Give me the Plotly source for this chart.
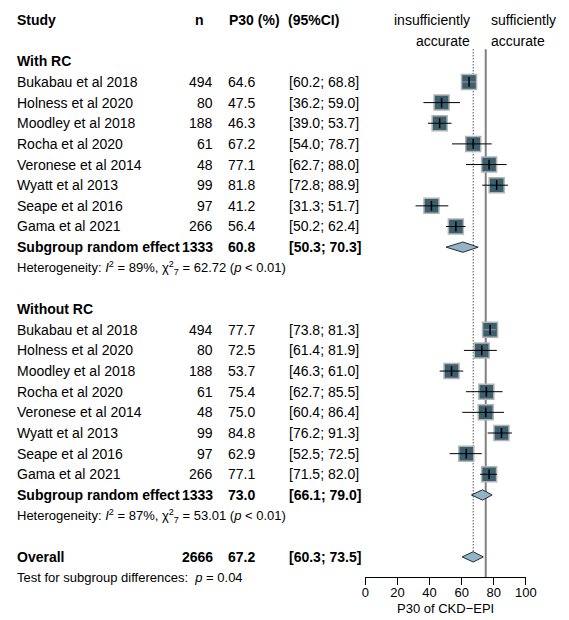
import plotly.graph_objects as go

# ---------------- data ----------------
studies = ["Bukabau et al 2018", "Holness et al 2020", "Moodley et al 2018", "Rocha et al 2020",
           "Veronese et al 2014", "Wyatt et al 2013", "Seape et al 2016", "Gama et al 2021"]
n_vals = [494, 80, 188, 61, 48, 99, 97, 266]

rc_est = [64.6, 47.5, 46.3, 67.2, 77.1, 81.8, 41.2, 56.4]
rc_lo = [60.2, 36.2, 39.0, 54.0, 62.7, 72.8, 31.3, 50.2]
rc_hi = [68.8, 59.0, 53.7, 78.7, 88.0, 88.9, 51.7, 62.4]

norc_est = [77.7, 72.5, 53.7, 75.4, 75.0, 84.8, 62.9, 77.1]
norc_lo = [73.8, 61.4, 46.3, 62.7, 60.4, 76.2, 52.5, 71.5]
norc_hi = [81.3, 81.9, 61.0, 85.5, 86.4, 91.3, 72.5, 82.0]

group_names = ["With RC", "Without RC"]
sub_n = [1333, 1333]
sub_est = [60.8, 73.0]
sub_lo = [50.3, 66.1]
sub_hi = [70.3, 79.0]
het_i2 = ["89%", "87%"]
het_df = [7, 7]
het_q = ["62.72", "53.01"]
het_p = ["&lt; 0.01", "&lt; 0.01"]

overall_n = 2666
overall_est = 67.2
overall_lo = 60.3
overall_hi = 73.5
subgroup_test_p = "0.04"

ref_value = 75
x_ticks = [0, 20, 40, 60, 80, 100]
x_label = "P30 of CKD\u2212EPI"

# ---------------- layout helpers ----------------
OFF = 8                           # page body margin of the html page
W, H = 569 - OFF, 620 - OFF
FONT = "Liberation Sans, Arial, Helvetica, sans-serif"
FS = 14
ROW0, ROWH = 20.0 - OFF, 20.65    # figure-pixel centre of row 0, row height
AXIS_PIX = 577 - OFF              # figure pixel of the x-axis line
X0_PIX, X1_PIX = 371 - OFF, 536 - OFF

COL_STUDY = 12 - OFF
COL_N = 216 - OFF
COL_P = 259 - OFF
COL_CI = 292 - OFF

annotations = []


def row_paper(row):
    return 1 - (ROW0 + ROWH * row) / AXIS_PIX


def txt(xpix, row, s, anchor="left", bold=False, size=FS):
    if bold:
        s = "<b>" + s + "</b>"
    annotations.append(dict(x=xpix / W, xref="paper", y=row_paper(row), yref="paper", text=s,
                            showarrow=False, xanchor=anchor, yanchor="middle", borderpad=0,
                            font=dict(family=FONT, size=size, color="black")))


fig = go.Figure()

# header
txt(COL_STUDY, 0, "Study", bold=True)
txt(201 - OFF, 0, "n", anchor="center", bold=True)
txt(230 - OFF, 0, "P30 (%)", bold=True)
txt(291 - OFF, 0, "(95%CI)", bold=True)
txt(480 - OFF, 0, "insufficiently", anchor="right")
txt(480 - OFF, 1, "accurate", anchor="right")
txt(499 - OFF, 0, "sufficiently")
txt(499 - OFF, 1, "accurate")

groups = [(rc_est, rc_lo, rc_hi), (norc_est, norc_lo, norc_hi)]
sq_x, sq_y, tick_x, tick_y = [], [], [], []
ci_x, ci_y, ci_in_x, ci_in_y = [], [], [], []
for g, (est, lo, hi) in enumerate(groups):
    base = 2 + 12 * g
    txt(COL_STUDY, base, group_names[g], bold=True)
    for i, s in enumerate(studies):
        r = base + 1 + i
        txt(COL_STUDY, r, s)
        txt(COL_N, r, str(n_vals[i]), anchor="right")
        txt(COL_P, r, f"{est[i]:.1f}", anchor="right")
        txt(COL_CI, r, f"[{lo[i]:.1f}; {hi[i]:.1f}]")
        sq_x.append(est[i]); sq_y.append(r)
        tick_x.append(est[i]); tick_y.append(r)
        if hi[i] - lo[i] < 10:
            ci_in_x += [lo[i], hi[i], None]; ci_in_y += [r, r, None]
        else:
            ci_x += [lo[i], hi[i], None]; ci_y += [r, r, None]
    rs = base + 1 + len(studies)
    txt(COL_STUDY, rs, "Subgroup random effect", bold=True)
    txt(COL_N, rs, str(sub_n[g]), anchor="right", bold=True)
    txt(COL_P, rs, f"{sub_est[g]:.1f}", anchor="right", bold=True)
    txt(COL_CI, rs, f"[{sub_lo[g]:.1f}; {sub_hi[g]:.1f}]", bold=True)
    txt(COL_STUDY, rs + 1,
        f"Heterogeneity: <i>I</i><sup>2</sup> = {het_i2[g]}, \u03c7<sup>2</sup><sub>{het_df[g]}</sub> = {het_q[g]} (<i>p</i> {het_p[g]})",
        size=13)

r_over = 26
txt(COL_STUDY, r_over, "Overall", bold=True)
txt(COL_N, r_over, str(overall_n), anchor="right", bold=True)
txt(COL_P, r_over, f"{overall_est:.1f}", anchor="right", bold=True)
txt(COL_CI, r_over, f"[{overall_lo:.1f}; {overall_hi:.1f}]", bold=True)
txt(COL_STUDY, r_over + 1, f"Test for subgroup differences:&nbsp; <i>p</i> = {subgroup_test_p}", size=13)

# diamonds
dh = 0.25
dia = [(sub_est[0], sub_lo[0], sub_hi[0], 11), (sub_est[1], sub_lo[1], sub_hi[1], 23),
       (overall_est, overall_lo, overall_hi, r_over)]

# reference lines
top_row = 1.42
y_top = -ROW0 / ROWH
y_bot = (AXIS_PIX - ROW0) / ROWH
shapes = [
    dict(type="line", xref="x", yref="y", x0=ref_value, x1=ref_value, y0=top_row,
         y1=y_bot, line=dict(color="#808080", width=2), layer="below"),
    dict(type="line", xref="x", yref="y", x0=overall_est, x1=overall_est, y0=top_row,
         y1=r_over, line=dict(color="black", width=1, dash="1px,2px"), layer="below"),
]

fig.add_trace(go.Scatter(x=sq_x, y=sq_y, mode="markers", hoverinfo="skip",
                         marker=dict(symbol="square", size=15, color="#3c5f6f",
                                     line=dict(color="#b4b4b4", width=1.5))))
fig.add_trace(go.Scatter(x=ci_x, y=ci_y, mode="lines", hoverinfo="skip",
                         line=dict(color="black", width=1)))
fig.add_trace(go.Scatter(x=ci_in_x, y=ci_in_y, mode="lines", hoverinfo="skip",
                         line=dict(color="#9a9a9a", width=1)))
fig.add_trace(go.Scatter(x=tick_x, y=tick_y, mode="markers", hoverinfo="skip",
                         marker=dict(symbol="line-ns", size=7,
                                     line=dict(color="black", width=1.5))))
for est, lo, hi, r in dia:
    fig.add_trace(go.Scatter(x=[lo, est, hi, est, lo], y=[r, r - dh, r, r + dh, r],
                             mode="lines", fill="toself", fillcolor="#92b4c8",
                             line=dict(color="#2b2b2b", width=1), hoverinfo="skip"))

# axis title
annotations.append(dict(x=50, xref="x", y=-31 / AXIS_PIX, yref="paper",
                        text=x_label, showarrow=False, xanchor="center", yanchor="middle",
                        font=dict(family=FONT, size=13, color="black")))

fig.update_layout(
    width=W, height=H, margin=dict(l=0, r=0, t=0, b=H - AXIS_PIX),
    paper_bgcolor="white", plot_bgcolor="white", showlegend=False,
    shapes=shapes, annotations=annotations,
    font=dict(family=FONT, size=13, color="black"),
    xaxis=dict(domain=[X0_PIX / W, X1_PIX / W], range=[0, 100], tickvals=x_ticks,
               showline=True, linecolor="black", linewidth=1, ticks="outside",
               ticklen=7, tickcolor="black", showgrid=False, zeroline=False,
               ticklabelstandoff=-4,
               tickfont=dict(family=FONT, size=13, color="black"), fixedrange=True),
    yaxis=dict(range=[y_bot, y_top], visible=False, fixedrange=True),
)

fig.write_html("out.html")
